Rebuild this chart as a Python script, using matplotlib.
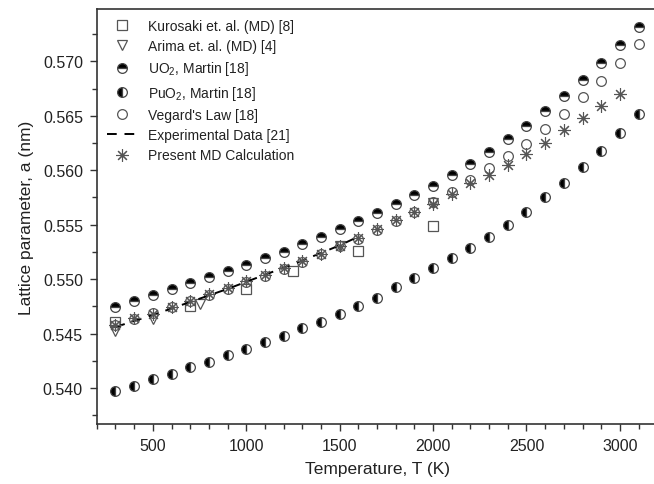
import matplotlib
matplotlib.use('Agg')
import matplotlib.pyplot as plt
from matplotlib.ticker import MultipleLocator

plt.rcParams['font.family'] = ['Liberation Sans', 'DejaVu Sans']
plt.rcParams['mathtext.fontset'] = 'custom'
plt.rcParams['mathtext.rm'] = 'Liberation Sans'

# temperatures (K)
T_full = [300, 400, 500, 600, 700, 800, 900, 1000, 1100, 1200, 1300, 1400, 1500,
          1600, 1700, 1800, 1900, 2000, 2100, 2200, 2300, 2400, 2500, 2600, 2700,
          2800, 2900, 3000, 3100]

# lattice parameter (nm)
uo2_martin = [0.5474, 0.5480, 0.5485, 0.5491, 0.5496, 0.5502, 0.5507, 0.5513, 0.5519,
              0.5525, 0.5532, 0.5539, 0.5546, 0.5553, 0.5561, 0.5569, 0.5577, 0.5586,
              0.5596, 0.5606, 0.5617, 0.5629, 0.5641, 0.5654, 0.5668, 0.5683, 0.5699,
              0.5715, 0.5732]
puo2_martin = [0.5397, 0.5402, 0.5408, 0.5413, 0.5419, 0.5424, 0.5430, 0.5436, 0.5442,
               0.5448, 0.5455, 0.5461, 0.5468, 0.5475, 0.5483, 0.5493, 0.5501, 0.5510,
               0.5519, 0.5529, 0.5539, 0.5550, 0.5562, 0.5575, 0.5588, 0.5603, 0.5618,
               0.5634, 0.5652]
vegard = [0.5458, 0.5463, 0.5469, 0.5474, 0.5480, 0.5485, 0.5491, 0.5497, 0.5503,
          0.5509, 0.5516, 0.5523, 0.5530, 0.5537, 0.5545, 0.5553, 0.5562, 0.5571,
          0.5580, 0.5591, 0.5602, 0.5613, 0.5624, 0.5638, 0.5652, 0.5667, 0.5682,
          0.5699, 0.5716]

T_md = T_full[:-1]
md_present = [0.5458, 0.5464, 0.5468, 0.5474, 0.5480, 0.5486, 0.5492, 0.5498, 0.5504,
              0.5510, 0.5517, 0.5523, 0.5530, 0.5538, 0.5546, 0.5554, 0.5562, 0.5569,
              0.5578, 0.5588, 0.5596, 0.5605, 0.5615, 0.5625, 0.5637, 0.5648, 0.5659,
              0.5670]

T_kurosaki = [300, 700, 1000, 1250, 1600, 2000]
kurosaki = [0.5461, 0.5475, 0.5491, 0.5507, 0.5526, 0.5549]

T_arima = [300, 500, 750, 1500, 2000]
arima = [0.5452, 0.5463, 0.5477, 0.5530, 0.5570]

T_exp = [300, 500, 700, 900, 1100, 1300, 1500, 1600]
exp_data = [0.5456, 0.5467, 0.5479, 0.5491, 0.5504, 0.5517, 0.5531, 0.5539]

grey = '#555555'
fig = plt.figure(figsize=(6.54, 4.85), dpi=100)
ax = fig.add_axes([0.148, 0.124, 0.857, 0.855])

ax.plot(T_kurosaki, kurosaki, ls='none', marker='s', ms=6.5, mfc='none', mec=grey,
        mew=0.9, label='Kurosaki et. al. (MD) [8]')
ax.plot(T_arima, arima, ls='none', marker='v', ms=7, mfc='none', mec=grey,
        mew=0.9, label='Arima et. al. (MD) [4]')
ax.plot(T_full, uo2_martin, ls='none', marker='o', ms=7, fillstyle='top', mfc='black',
        mfcalt='white', mec='#444444', mew=0.9, label=r'UO$_2$, Martin [18]')
ax.plot(T_full, puo2_martin, ls='none', marker='o', ms=7, fillstyle='left', mfc='black',
        mfcalt='white', mec='#444444', mew=0.9, label=r'PuO$_2$, Martin [18]')
ax.plot(T_full, vegard, ls='none', marker='o', ms=7, mfc='none', mec=grey,
        mew=0.9, label="Vegard's Law [18]")
ax.plot(T_exp, exp_data, ls=(0, (5, 4)), color='black', lw=1.4,
        label='Experimental Data [21]')
ax.plot(T_md, md_present, ls='none', marker=(8, 2, 0), ms=9, color=grey,
        mew=0.8, label='Present MD Calculation')

ax.set_xlim(200, 3200)
ax.set_ylim(0.5367, 0.5748)
ax.xaxis.set_major_locator(MultipleLocator(500))
ax.xaxis.set_minor_locator(MultipleLocator(100))
ax.yaxis.set_major_locator(MultipleLocator(0.005))
ax.yaxis.set_minor_locator(MultipleLocator(0.0025))
ax.yaxis.set_major_formatter(plt.FormatStrFormatter('%.3f'))

for s in ax.spines.values():
    s.set_color('#333333')
    s.set_linewidth(1.2)
ax.tick_params(which='both', direction='out', colors='#333333', labelcolor='#222222',
               labelsize=11.5, top=False, right=False)
ax.tick_params(which='major', length=5, width=1.0, pad=5)
ax.tick_params(which='minor', length=3.5, width=1.0)

ax.set_xlabel('Temperature, T (K)', fontsize=12.5, color='#222222', labelpad=6)
ax.set_ylabel('Lattice parameter, a (nm)', fontsize=12.5, color='#222222', labelpad=6)

ax.legend(loc='upper left', frameon=False, fontsize=10, handlelength=2.2,
          handletextpad=0.8, labelspacing=0.45, borderaxespad=0.3,
          bbox_to_anchor=(0.0, 1.0), labelcolor='#222222')

fig.savefig('out.png', dpi=100)
